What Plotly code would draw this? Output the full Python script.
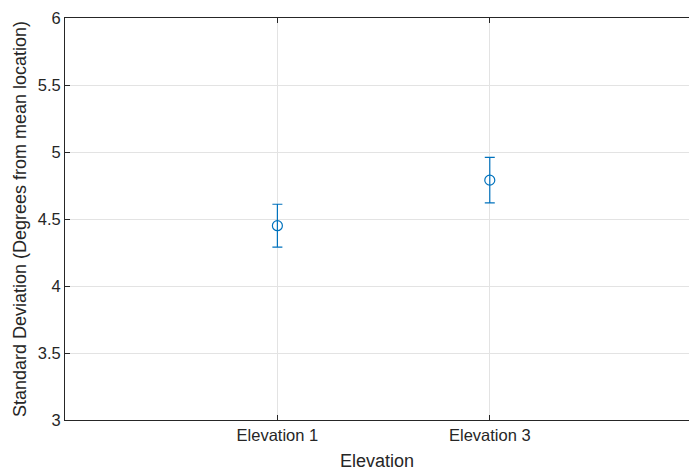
import plotly.graph_objects as go

# Standard deviation of location estimates per elevation group
categories = ["Elevation 1", "Elevation 3"]
positions = [1, 2]
std_mean = [4.45, 4.79]
std_err = [0.16, 0.17]

y_ticks = [3, 3.5, 4, 4.5, 5, 5.5, 6]
y_ticktext = ["3", "3.5", "4", "4.5", "5", "5.5", "6"]

blue = "#0072BD"
axis_col = "#262626"
grid_col = "#e3e3e3"
font_family = "Liberation Sans, Arial, sans-serif"

fig = go.Figure()
fig.add_trace(go.Scatter(
    x=positions,
    y=std_mean,
    mode="markers",
    marker=dict(symbol="circle-open", size=10, color=blue, line=dict(width=1.2, color=blue)),
    error_y=dict(type="data", array=std_err, visible=True, color=blue, thickness=1.2, width=5),
    showlegend=False,
    hoverinfo="x+y",
))

fig.update_layout(
    width=689,
    height=472,
    margin=dict(l=65, r=0, t=18, b=52),
    paper_bgcolor="white",
    plot_bgcolor="white",
    font=dict(family=font_family, color=axis_col, size=16.5),
    xaxis=dict(
        range=[0, 2.938],
        tickvals=positions,
        ticktext=categories,
        ticks="inside",
        ticklen=5,
        tickcolor=axis_col,
        showline=True,
        linecolor=axis_col,
        linewidth=1,
        mirror="ticks",
        showgrid=True,
        gridcolor=grid_col,
        gridwidth=1,
        zeroline=False,
        tickfont=dict(size=16.5, color=axis_col),
        title=dict(text="Elevation", font=dict(size=18, color=axis_col), standoff=11),
        automargin=False,
    ),
    yaxis=dict(
        range=[3, 6],
        tickvals=y_ticks,
        ticktext=y_ticktext,
        ticks="inside",
        ticklen=5,
        tickcolor=axis_col,
        showline=True,
        linecolor=axis_col,
        linewidth=1,
        mirror=False,
        showgrid=True,
        gridcolor=grid_col,
        gridwidth=1,
        zeroline=False,
        tickfont=dict(size=16.5, color=axis_col),
        title=dict(text="Standard Deviation (Degrees from mean location)", font=dict(size=18, color=axis_col), standoff=6),
        automargin=False,
    ),
)

fig.write_html("out.html")
